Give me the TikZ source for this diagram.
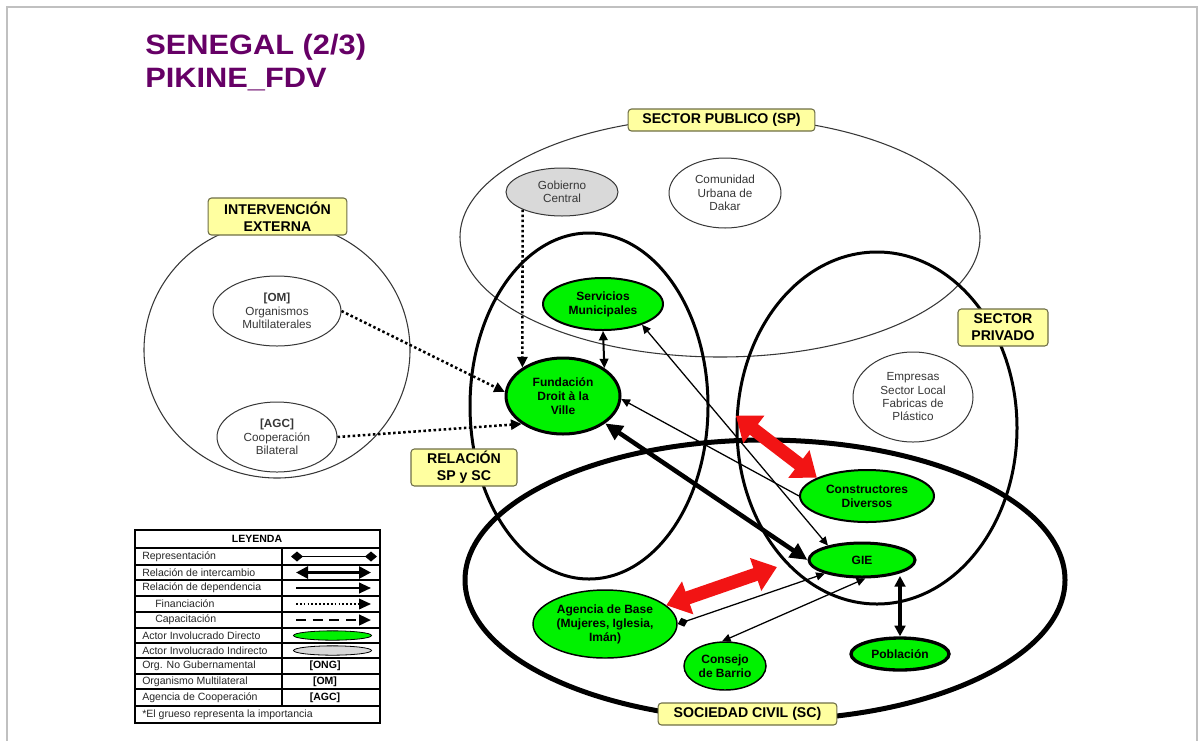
\documentclass[tikz,border=0pt]{standalone}
\usepackage{fontspec}
\setmainfont{Liberation Sans}
\usetikzlibrary{shapes.geometric,arrows.meta,calc}
\definecolor{grn}{RGB}{0,242,0}
\definecolor{lblfill}{RGB}{255,255,160}
\definecolor{lbldraw}{RGB}{110,110,70}
\definecolor{ttl}{RGB}{102,0,102}
\definecolor{txtg}{RGB}{55,55,55}
\definecolor{gobfill}{RGB}{217,217,217}
\definecolor{frm}{RGB}{192,192,192}
\definecolor{rd}{RGB}{242,20,20}
\tikzset{
  bigzone/.style={draw=txtg, line width=0.8pt, ellipse, inner sep=0pt},
  zone/.style={draw=black, line width=2.25pt, ellipse, inner sep=0pt},
  lbl/.style={draw=lbldraw, fill=lblfill, rounded corners=2.5pt, line width=0.8pt,
    font=\bfseries\fontsize{10.6}{12.75}\selectfont, align=center, inner sep=0pt},
  act/.style={ellipse, fill=grn, draw=black, inner sep=0pt,
    font=\bfseries\fontsize{9}{10.5}\selectfont, align=center},
  ind/.style={ellipse, fill=white, draw=txtg, line width=0.75pt, inner sep=0pt,
    text=txtg, font=\fontsize{8.8}{10}\selectfont, align=center},
  finarr/.style={line width=1.9pt, dash pattern=on 1.9pt off 1.9pt, -{Triangle[length=8pt,width=7.5pt]}},
  thinarr/.style={line width=0.95pt, -{Triangle[length=6.5pt,width=6pt]}},
  thinarrb/.style={line width=0.95pt, {Triangle[length=6.5pt,width=6pt]}-{Triangle[length=6.5pt,width=6pt]}},
  medarr/.style={line width=1.5pt, {Triangle[length=7pt,width=6.5pt]}-{Triangle[length=7pt,width=6.5pt]}},
  pobarrow/.style={line width=2.4pt, {Triangle[length=8pt,width=8pt]}-{Triangle[length=8pt,width=8pt]}},
  thickarr/.style={line width=3.4pt, {Triangle[length=13pt,width=12pt]}-{Triangle[length=13pt,width=12pt]}},
  reprarr/.style={line width=0.95pt, {Diamond[length=8pt,width=7pt]}-{Triangle[length=6.5pt,width=6pt]}},
  redblock/.style={draw=rd, line width=10pt, {Triangle[length=17pt,width=25pt]}-{Triangle[length=17pt,width=25pt]}},
  lgtxt/.style={anchor=west, inner sep=0pt, font=\fontsize{7.9}{9}\selectfont, text=black!85},
  lgbold/.style={inner sep=0pt, font=\bfseries\fontsize{7.9}{9}\selectfont}
}
\begin{document}
\begin{tikzpicture}[x=0.75pt,y=-0.75pt]
\useasboundingbox (0,0) rectangle (1198,740);
% frame
\draw[frm, line width=1.5pt] (7,745) -- (7,7) -- (1197,7) -- (1197,745);

% title
\node[anchor=base west, inner sep=0pt, text=ttl, font=\bfseries\fontsize{21}{24}\selectfont] (t1) at (145,54) {\scalebox{1.1}[1]{SENEGAL (2/3)}};
\node[anchor=base west, inner sep=0pt, text=ttl, font=\bfseries\fontsize{21}{24}\selectfont] (t2) at (145,87) {\scalebox{1.1}[1]{PIKINE\_FDV}};

% zones
\node[bigzone, minimum width=390pt, minimum height=180pt] (sp) at (720,237) {};
\node[bigzone, minimum width=199.5pt, minimum height=192pt] (ie) at (277,350) {};
\node[zone, minimum width=178.5pt, minimum height=259.5pt] (rel) at (589,406) {};
\node[zone, minimum width=210pt, minimum height=264pt] (priv) at (877,428) {};
\node[zone, line width=3.75pt, minimum width=450pt, minimum height=210pt] (sc) at (765,580) {};

% zone labels
\node[lbl, minimum width=140pt, minimum height=16.5pt] (lsp) at (721.5,120) {SECTOR PUBLICO (SP)};
\node[lbl, minimum width=104pt, minimum height=27.75pt] (lie) at (277.5,216.5) {INTERVENCIÓN\\EXTERNA};
\node[lbl, minimum width=79.5pt, minimum height=27.75pt] (lrel) at (464,467.5) {RELACIÓN\\SP y SC};
\node[lbl, minimum width=67.5pt, minimum height=27.75pt] (lpriv) at (1003,327.5) {SECTOR\\PRIVADO};
\node[lbl, minimum width=134pt, minimum height=16.5pt] (lsc) at (747.5,714) {SOCIEDAD CIVIL (SC)};

% indirect / other actors
\node[ind, fill=gobfill, minimum width=84pt, minimum height=36pt] (gob) at (562,192) {Gobierno\\Central};
\node[ind, minimum width=84pt, minimum height=52.5pt] (cud) at (725,193) {Comunidad\\Urbana de\\Dakar};
\node[ind, minimum width=96pt, minimum height=52.5pt] (om) at (277,311) {\textbf{[OM]}\\Organismos\\Multilaterales};
\node[ind, minimum width=90pt, minimum height=52.5pt] (agc) at (277,437) {\textbf{[AGC]}\\Cooperación\\Bilateral};
\node[ind, minimum width=90pt, minimum height=67.5pt] (emp) at (913,397) {Empresas\\Sector Local\\Fabricas de\\Plástico};

% direct actors
\node[act, line width=1.5pt, minimum width=90pt, minimum height=39pt] (serv) at (603,304) {Servicios\\Municipales};
\node[act, line width=2.25pt, minimum width=85.5pt, minimum height=57pt] (fdv) at (563,396) {Fundación\\Droit à la\\Ville};
\node[act, line width=1.5pt, minimum width=100.5pt, minimum height=39pt] (cons) at (867,496) {Constructores\\Diversos};
\node[act, line width=2.25pt, minimum width=79.5pt, minimum height=25.5pt] (gie) at (862,560) {GIE};
\node[act, line width=1.1pt, minimum width=108pt, minimum height=51pt] (agb) at (605,624) {Agencia de Base\\(Mujeres, Iglesia,\\Imán)};
\node[act, line width=1.1pt, minimum width=61.5pt, minimum height=36pt] (conb) at (725,666) {Consejo\\de Barrio};
\node[act, line width=2.5pt, minimum width=73.5pt, minimum height=24pt] (pob) at (900,654) {Población};

% connectors
\draw[finarr] (gob.204) -- (fdv.145);
\draw[finarr] (om.east) -- (fdv.176);
\draw[finarr] (agc.east) -- (fdv.214);
\draw[medarr] (serv.south) -- (fdv.34);
\draw[thinarr] (cons.west) -- (fdv.-3);
\draw[thinarrb] (serv.-28) -- (gie.157);
\draw[thickarr] (fdv.-33) -- (gie.west);
\draw[reprarr] (agb.east) -- (gie.200);
\draw[thinarrb] (gie.-80) -- (conb.97);
\draw[pobarrow] (pob.north |- gie.-30) -- (pob.north);
\draw[redblock] (priv.175) -- (cons.160);
\coordinate (redB) at (777,567);
\draw[redblock] (agb.17) -- (redB);

% legend
\fill[white] (135,530) rectangle (380,723);
\foreach \yy in {548,565,580,596,612,628,643,658,674,689,706}
  \draw[line width=1pt] (135,\yy) -- (380,\yy);
\draw[line width=1pt] (282,548) -- (282,706);
\draw[line width=1.6pt] (135,530) rectangle (380,723);
\node[lgbold] (lgh) at (257,539) {LEYENDA};
\node[lgtxt] (lg1) at (142,556.5) {Representación};
\node[lgtxt] (lg2) at (142,572.5) {Relación de intercambio};
\node[lgtxt] (lg3) at (142,588) {Relación de dependencia};
\node[lgtxt] (lg4) at (155,604) {Financiación};
\node[lgtxt] (lg5) at (155,620) {Capacitación};
\node[lgtxt] (lg6) at (142,635.5) {Actor Involucrado Directo};
\node[lgtxt] (lg7) at (142,650.5) {Actor Involucrado Indirecto};
\node[lgtxt] (lg8) at (142,666) {Org. No Gubernamental};
\node[lgtxt] (lg9) at (142,681.5) {Organismo Multilateral};
\node[lgtxt] (lg10) at (142,697.5) {Agencia de Cooperación};
\node[lgtxt] (lg11) at (142,714.5) {*El grueso representa la importancia};
\draw[line width=1.1pt, {Diamond[length=9pt,width=7.5pt]}-{Diamond[length=9pt,width=7.5pt]}] (291,556.5) -- (377,556.5);
\draw[line width=2pt, {Triangle[length=9pt,width=9pt]}-{Triangle[length=9pt,width=9pt]}] (296,572.5) -- (371,572.5);
\draw[line width=1.5pt, -{Triangle[length=9pt,width=8pt]}] (296,588) -- (371,588);
\draw[line width=1.2pt, dash pattern=on 1.3pt off 1.6pt, -{Triangle[length=9pt,width=8pt]}] (296,604) -- (371,604);
\draw[line width=1.8pt, dash pattern=on 7.5pt off 5pt, -{Triangle[length=9pt,width=8pt]}] (296,620) -- (371,620);
\node[ellipse, draw, fill=grn, line width=0.6pt, minimum width=58.5pt, minimum height=7pt, inner sep=0pt] (lgdir) at (332.5,635.5) {};
\node[ellipse, draw, fill=gobfill, line width=0.6pt, minimum width=58.5pt, minimum height=7pt, inner sep=0pt] (lgind) at (332.5,650.5) {};
\node[lgbold] (lgong) at (325,666) {[ONG]};
\node[lgbold] (lgom) at (325,681.5) {[OM]};
\node[lgbold] (lgagc) at (325,697.5) {[AGC]};
\end{tikzpicture}
\end{document}
